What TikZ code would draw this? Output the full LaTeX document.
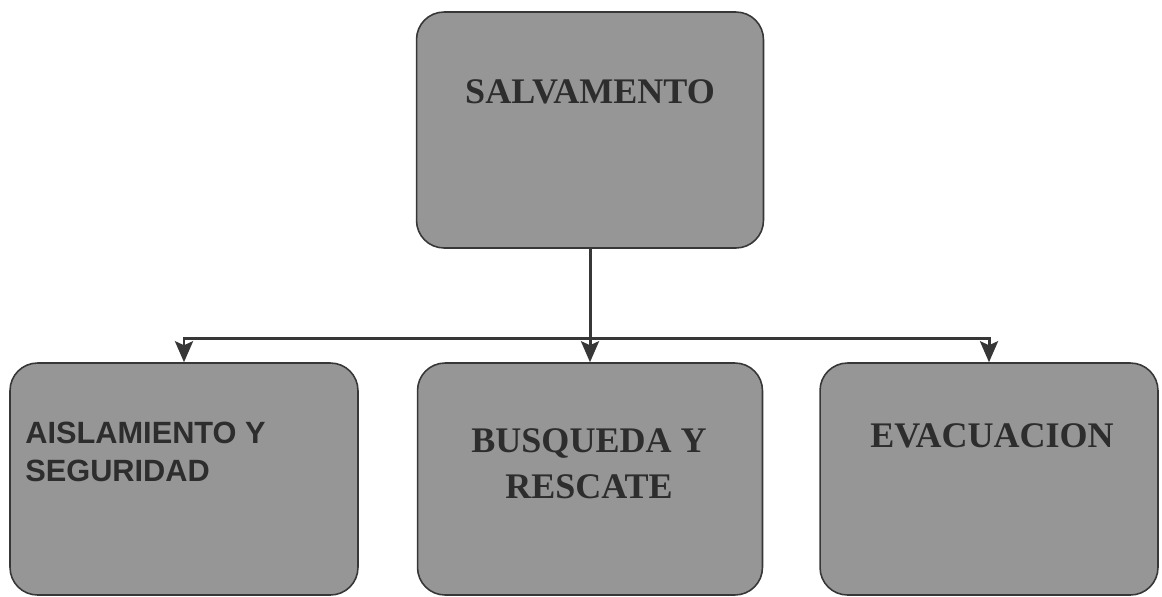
\documentclass[tikz,border=0pt]{standalone}
\usepackage{fontspec}
\setmainfont{Liberation Serif}
\setsansfont{Liberation Sans}
\usepackage{tikz}
\usetikzlibrary{positioning}
\usetikzlibrary{arrows.meta}
\usepackage{xcolor}
\definecolor{boxgray}{RGB}{150,150,150}
\definecolor{edgegray}{RGB}{55,55,55}
\definecolor{inkgray}{RGB}{45,45,45}

\begin{document}
\begin{tikzpicture}[x=0.02cm, y=-0.02cm,
		box/.style={draw=edgegray, fill=boxgray, line width=0.9pt, rounded corners=0.55cm, minimum width=6.9cm, minimum height=4.64cm, inner sep=0pt},
		serif/.style={text=inkgray, font=\fontsize{20.5}{26}\selectfont\bfseries, align=center, inner sep=0pt},
		sans/.style={text=inkgray, font=\sffamily\fontsize{17.5}{21.5}\selectfont\bfseries, align=left, inner sep=0pt},
		link/.style={draw=edgegray, line width=1.7pt},
		arrow/.style={link, -{Stealth[length=0.42cm, width=0.36cm, inset=0.08cm]}}]
			    		\useasboundingbox (0,0) rectangle (1162,596);
			    		\node[box, minimum width=6.94cm, minimum height=4.72cm] (salv) at (590,130) {};
			    		\node[box, minimum width=6.96cm] (aisl) at (184,479) {};
			    		\node[box] (busq) at (590,479) {};
			    		\node[box, minimum width=6.76cm] (evac) at (989,479) {};
			    		\node[serif, anchor=base] (salvtxt) at (590,103) {SALVAMENTO};
			    		\node[sans, anchor=base west] (aisltxt) at (25,481) {AISLAMIENTO Y\\SEGURIDAD};
			    		\node[serif, anchor=base] (busqtxt) at (589,498) {BUSQUEDA Y\\RESCATE};
			    		\node[serif, anchor=base] (evactxt) at (992,447) {EVACUACION};
			    		\coordinate (hub) at (590,338);
			    		\draw[link] (salv.south) -- (hub);
			    		\draw[arrow] (hub) -- (busq.north);
			    		\draw[arrow] (hub) -| (aisl.north);
			    		\draw[arrow] (hub) -| (evac.north);
			    	\end{tikzpicture}
\end{document}
